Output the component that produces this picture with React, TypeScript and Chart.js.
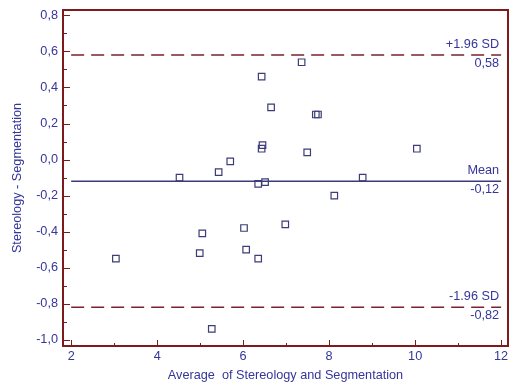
import React, { useEffect, useRef } from 'react';
import { Chart, registerables } from 'chart.js';

Chart.register(...registerables);

// Bland-Altman data: average (x) vs difference (y)
const averages = [3.04, 4.99, 5.05, 4.52, 5.43, 5.70, 6.35, 6.51, 6.43, 6.65, 6.45, 6.43, 7.36, 7.69, 7.74, 7.49, 8.12, 8.78, 10.04, 6.02, 6.07, 6.35, 6.98, 5.27];
const differences = [-0.55, -0.52, -0.41, -0.10, -0.07, -0.01, -0.135, -0.125, 0.46, 0.29, 0.08, 0.06, 0.54, 0.25, 0.25, 0.04, -0.20, -0.10, 0.06, -0.38, -0.50, -0.55, -0.36, -0.94];

const upperLimit = 0.58;
const meanDiff = -0.12;
const lowerLimit = -0.82;
const refLineStart = 2;
const refLineEnd = 12;

const refLabelsTop = ['+1.96 SD', 'Mean', '-1.96 SD'];
const refLabelsBottom = ['0,58', '-0,12', '-0,82'];
const refValues = [upperLimit, meanDiff, lowerLimit];

const xTicks = [2, 4, 6, 8, 10, 12];
const xMinorTicks = [3, 5, 7, 9, 11];
const yTicks = [-1.0, -0.8, -0.6, -0.4, -0.2, 0.0, 0.2, 0.4, 0.6, 0.8];
const yMinorTicks = [-0.9, -0.7, -0.5, -0.3, -0.1, 0.1, 0.3, 0.5, 0.7];

const xTitle = 'Average  of Stereology and Segmentation';
const yTitle = 'Stereology - Segmentation';

const FONT = 'Arial, "Liberation Sans", sans-serif';
const FS = 12.7;
const BLUE = '#35359a';
const FRAME = '#7d1a1c';
const DASH = '#7a2230';
const MEAN = '#3a3a7c';
const POINT = '#3c3c78';

const decorations = {
  id: 'decorations',
  afterDatasetsDraw(chart: any) {
    const { ctx, chartArea, scales } = chart;
    const xs = scales.x;
    const ys = scales.y;
    ctx.save();
    // frame
    ctx.strokeStyle = FRAME;
    ctx.lineWidth = 2;
    ctx.strokeRect(chartArea.left, chartArea.top, chartArea.right - chartArea.left, chartArea.bottom - chartArea.top);
    // ticks (inside the plot)
    ctx.lineWidth = 1;
    ctx.beginPath();
    yTicks.forEach((v) => {
      const y = Math.round(ys.getPixelForValue(v)) + 0.5;
      ctx.moveTo(chartArea.left, y);
      ctx.lineTo(chartArea.left + 7, y);
    });
    yMinorTicks.forEach((v) => {
      const y = Math.round(ys.getPixelForValue(v)) + 0.5;
      ctx.moveTo(chartArea.left, y);
      ctx.lineTo(chartArea.left + 4, y);
    });
    xTicks.forEach((v) => {
      const x = Math.round(xs.getPixelForValue(v)) + 0.5;
      ctx.moveTo(x, chartArea.bottom);
      ctx.lineTo(x, chartArea.bottom - 6);
    });
    xMinorTicks.forEach((v) => {
      const x = Math.round(xs.getPixelForValue(v)) + 0.5;
      ctx.moveTo(x, chartArea.bottom);
      ctx.lineTo(x, chartArea.bottom - 3);
    });
    ctx.stroke();
    ctx.fillStyle = BLUE;
    ctx.font = FS + 'px ' + FONT;
    // x tick labels
    ctx.textAlign = 'center';
    ctx.textBaseline = 'top';
    xTicks.forEach((v) => {
      ctx.fillText(String(v), xs.getPixelForValue(v), chartArea.bottom + 4);
    });
    // reference line labels
    ctx.textAlign = 'right';
    ctx.textBaseline = 'alphabetic';
    const xr = xs.getPixelForValue(refLineEnd) - 2;
    refValues.forEach((v, i) => {
      const y = ys.getPixelForValue(v);
      ctx.fillText(refLabelsTop[i], xr, y - 7);
      ctx.fillText(refLabelsBottom[i], xr, y + 12);
    });
    ctx.restore();
  },
};

function refLine(value: number, color: string, dash: number[]) {
  return {
    type: 'line' as const,
    data: [
      { x: refLineStart, y: value },
      { x: refLineEnd, y: value },
    ],
    borderColor: color,
    borderWidth: 1.5,
    borderDash: dash,
    pointRadius: 0,
    showLine: true,
    fill: false,
    order: 2,
  };
}

export default function App() {
  const canvasRef = useRef<HTMLCanvasElement>(null);

  useEffect(() => {
    if (!canvasRef.current) return;
    const chart = new Chart(canvasRef.current, {
      type: 'scatter',
      data: {
        datasets: [
          {
            type: 'scatter',
            data: averages.map((x, i) => ({ x, y: differences[i] })),
            pointStyle: 'rect',
            pointRadius: 4.6,
            pointBorderWidth: 1.2,
            pointBorderColor: POINT,
            pointBackgroundColor: 'rgba(255,255,255,0)',
            order: 1,
          } as any,
          refLine(upperLimit, DASH, [13, 7]) as any,
          refLine(meanDiff, MEAN, []) as any,
          refLine(lowerLimit, DASH, [13, 7]) as any,
        ],
      },
      options: {
        responsive: false,
        animation: false,
        devicePixelRatio: 1,
        layout: { autoPadding: false, padding: { left: 0, right: 3, top: 10, bottom: 0 } },
        plugins: {
          legend: { display: false },
          tooltip: { enabled: false },
        },
        scales: {
          x: {
            type: 'linear',
            min: 1.81,
            max: 12.16,
            grid: { display: false, drawTicks: false },
            border: { display: false },
            afterBuildTicks: (scale: any) => {
              scale.ticks = xTicks.map((v) => ({ value: v }));
            },
            afterFit: (scale: any) => {
              scale.height = 40;
              scale.paddingLeft = 0;
              scale.paddingRight = 0;
            },
            ticks: { display: false },
            title: {
              display: true,
              text: xTitle,
              color: BLUE,
              font: { family: FONT, size: FS },
              padding: { top: 0, bottom: 3 },
            },
          },
          y: {
            type: 'linear',
            min: -1.035,
            max: 0.83,
            grid: { display: false, drawTicks: false },
            border: { display: false },
            afterBuildTicks: (scale: any) => {
              scale.ticks = yTicks.map((v) => ({ value: v }));
            },
            afterFit: (scale: any) => {
              scale.width = 63;
              scale.paddingTop = 0;
              scale.paddingBottom = 0;
              scale.paddingLeft = 0;
              scale.paddingRight = 0;
            },
            ticks: {
              color: BLUE,
              font: { family: FONT, size: FS },
              padding: 5,
              autoSkip: false,
              callback: (v: any) => Number(v).toFixed(1).replace('.', ','),
            },
            title: {
              display: true,
              text: yTitle,
              color: BLUE,
              font: { family: FONT, size: FS },
              padding: { top: 10, bottom: 0 },
            },
          },
        },
      },
      plugins: [decorations],
    } as any);
    return () => chart.destroy();
  }, []);

  return (
    <div style={{ position: 'absolute', left: 0, top: 0, width: 511, height: 386, background: '#fff' }}>
      <canvas ref={canvasRef} width={511} height={386} style={{ width: 511, height: 386, display: 'block' }} />
    </div>
  );
}
